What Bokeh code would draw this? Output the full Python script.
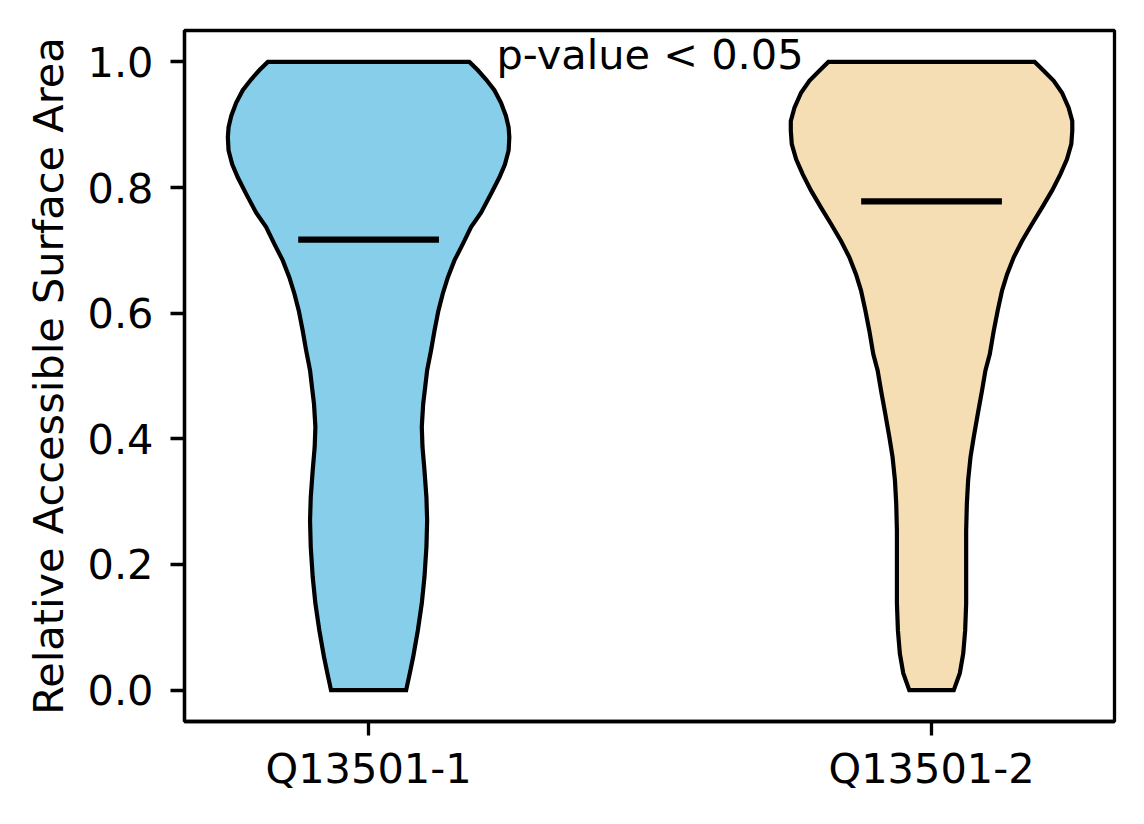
from bokeh.plotting import figure
from bokeh.models import Range1d, FixedTicker, NumeralTickFormatter
from bokeh.core.properties import value
from bokeh.embed import file_html
from bokeh.resources import INLINE

# ---- data ----
categories = ["Q13501-1", "Q13501-2"]
positions = [1, 2]
means = [0.717, 0.778]
fill_colors = ["#87CEEB", "#F5DEB3"]

# violin 1 profile: RSA value and relative density (max = 1)
rsa_1 = [0.0, 0.027, 0.053, 0.095, 0.138, 0.180, 0.228, 0.270, 0.307, 0.350,
         0.387, 0.419, 0.456, 0.482, 0.509, 0.541, 0.572, 0.604, 0.631, 0.657,
         0.684, 0.710, 0.737, 0.760, 0.790, 0.816, 0.837, 0.859, 0.880, 0.896,
         0.914, 0.935, 0.955, 0.972, 0.987, 1.0]
dens_1 = [0.267, 0.293, 0.317, 0.350, 0.378, 0.397, 0.411, 0.416, 0.411, 0.397,
          0.383, 0.378, 0.388, 0.402, 0.416, 0.444, 0.468, 0.496, 0.527, 0.563,
          0.610, 0.669, 0.728, 0.799, 0.870, 0.929, 0.969, 0.995, 1.0, 0.995,
          0.976, 0.941, 0.894, 0.835, 0.775, 0.716]

# violin 2 profile
rsa_2 = [0.0, 0.027, 0.058, 0.095, 0.138, 0.191, 0.254, 0.297, 0.334, 0.371,
         0.403, 0.440, 0.477, 0.509, 0.535, 0.572, 0.604, 0.636, 0.662, 0.689,
         0.715, 0.742, 0.768, 0.795, 0.821, 0.845, 0.869, 0.890, 0.906, 0.927,
         0.951, 0.970, 0.986, 1.0]
dens_2 = [0.158, 0.201, 0.225, 0.239, 0.246, 0.246, 0.246, 0.251, 0.260, 0.277,
          0.300, 0.329, 0.359, 0.383, 0.414, 0.442, 0.470, 0.501, 0.537, 0.584,
          0.643, 0.714, 0.785, 0.856, 0.915, 0.962, 0.993, 1.0, 1.0, 0.974,
          0.927, 0.868, 0.797, 0.733]

y_ticks = [0.0, 0.2, 0.4, 0.6, 0.8, 1.0]
y_label = "Relative Accessible Surface Area"
annotation = "p-value < 0.05"
annotation_x = 1.5
annotation_y = 1.012

# ---- styling ----
FONT = "DejaVu Sans"
FS = "41.5px"
half_width = 0.25   # violin widths = 0.5

p = figure(width=1136, height=816, output_backend="svg", toolbar_location=None,
           x_range=Range1d(0.673, 2.325), y_range=Range1d(-0.05, 1.05),
           min_border_left=184, min_border_right=22, min_border_top=30,
           min_border_bottom=95)
p.background_fill_color = "white"
p.border_fill_color = "white"
p.grid.visible = False
p.outline_line_color = "black"
p.outline_line_width = 3.3

profiles = [(rsa_1, dens_1), (rsa_2, dens_2)]
for pos, (ys, ds), col, m in zip(positions, profiles, fill_colors, means):
    right = [pos + half_width * d for d in ds]
    left = [pos - half_width * d for d in ds]
    xs = right + left[::-1]
    yy = list(ys) + list(ys)[::-1]
    p.patch(xs, yy, fill_color=col, fill_alpha=1.0, line_color="black",
            line_width=4.2, line_join="miter")
    p.segment(x0=[pos - half_width / 2], y0=[m], x1=[pos + half_width / 2], y1=[m],
              line_color="black", line_width=6.2)

p.text(x=[annotation_x], y=[annotation_y], text=[annotation], text_align="center",
       text_baseline="alphabetic", text_font=value(FONT), text_font_size=FS,
       text_color="black")

# axes
p.xaxis.ticker = FixedTicker(ticks=positions)
p.xaxis.major_label_overrides = {pos: lab for pos, lab in zip(positions, categories)}
p.yaxis.ticker = FixedTicker(ticks=y_ticks)
p.yaxis.formatter = NumeralTickFormatter(format="0.0")
p.yaxis.axis_label = y_label
for ax in (p.xaxis, p.yaxis):
    ax.axis_line_color = "black"
    ax.axis_line_width = 3.3
    ax.major_tick_line_color = "black"
    ax.major_tick_line_width = 3.3
    ax.major_tick_out = 14
    ax.major_tick_in = 0
    ax.minor_tick_line_color = None
    ax.major_label_text_font = FONT
    ax.major_label_text_font_size = FS
    ax.major_label_text_color = "black"
    ax.axis_label_text_font = FONT
    ax.axis_label_text_font_size = FS
    ax.axis_label_text_font_style = "normal"
    ax.axis_label_text_color = "black"
p.yaxis.major_label_standoff = 17
p.xaxis.major_label_standoff = 8
p.yaxis.axis_label_standoff = 12

open("out.html", "w").write(file_html(p, INLINE))
